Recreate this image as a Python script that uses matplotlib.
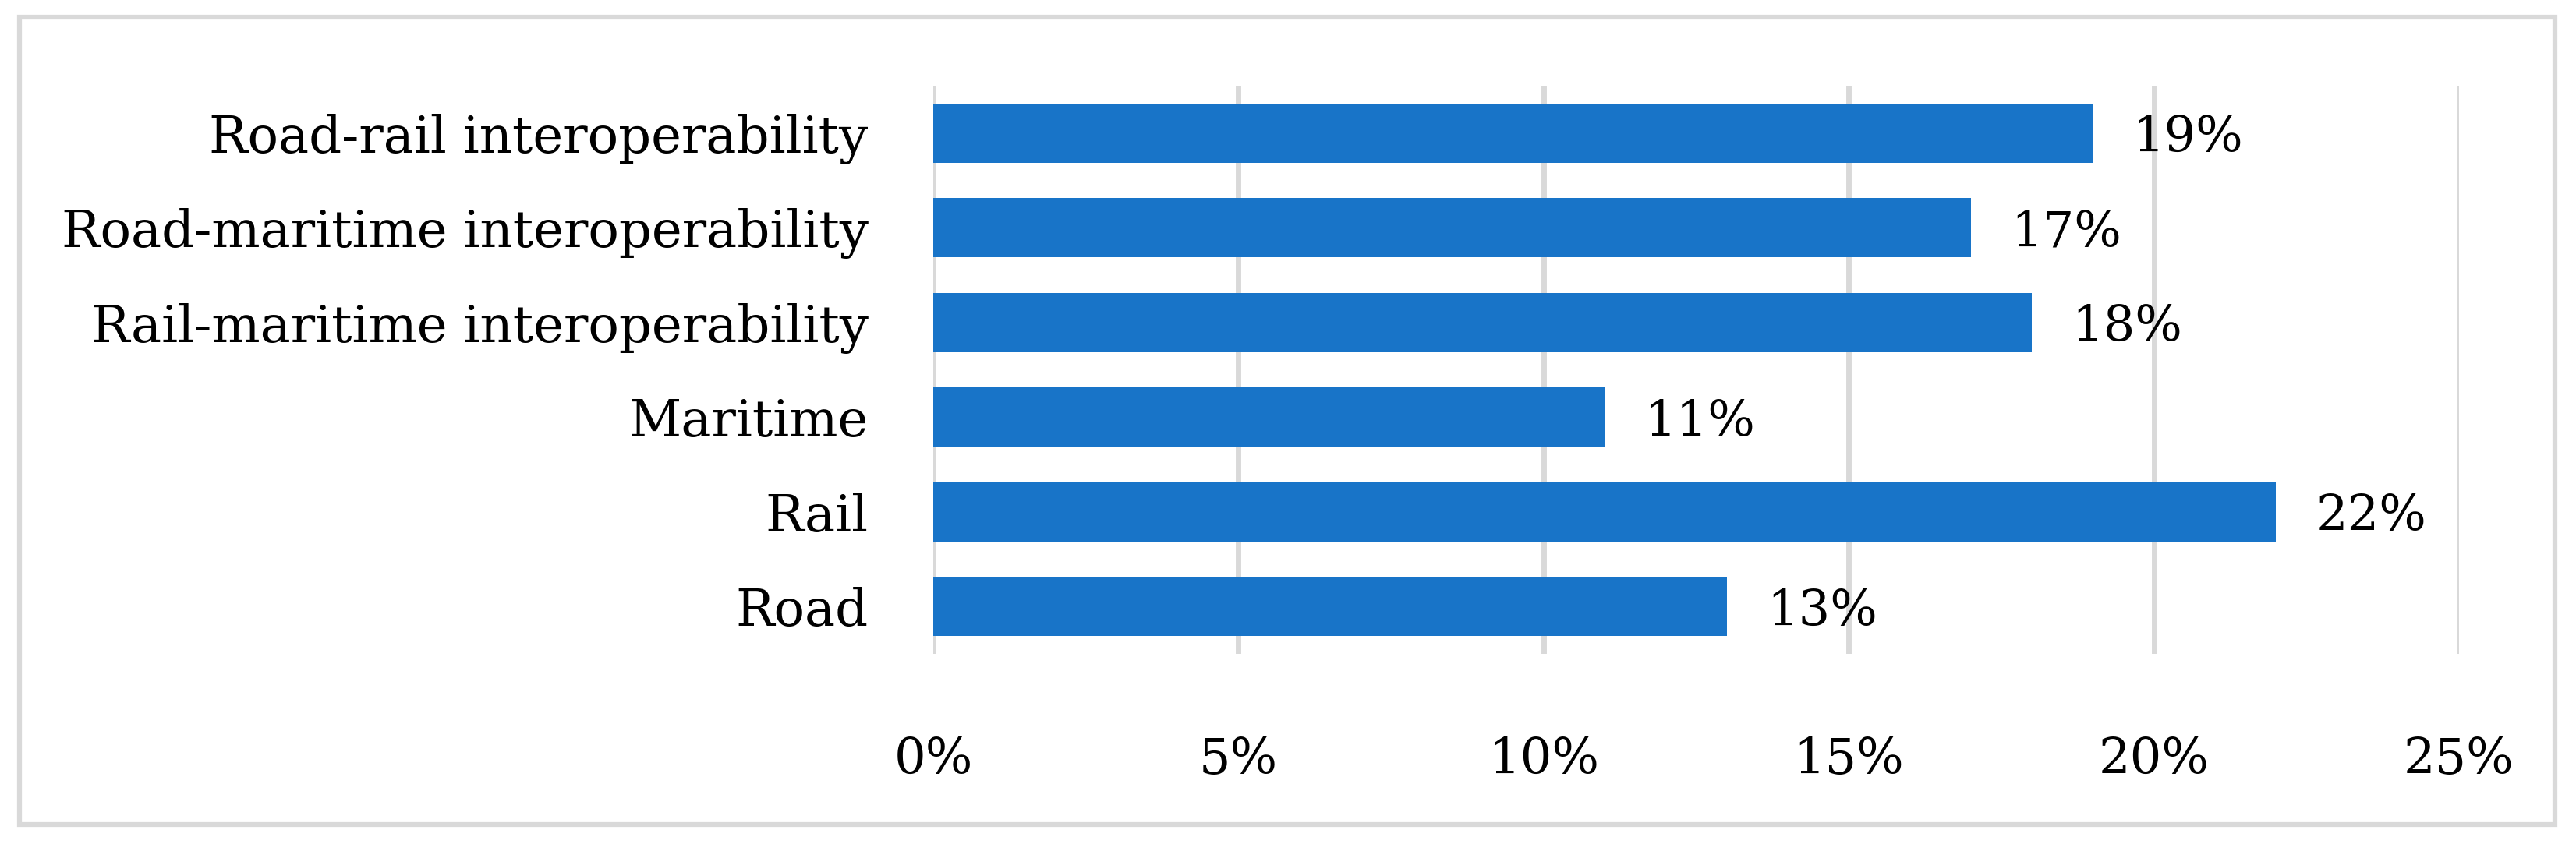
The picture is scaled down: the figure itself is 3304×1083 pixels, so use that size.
import matplotlib
matplotlib.use("Agg")
import matplotlib.pyplot as plt
from matplotlib.patches import Rectangle
from matplotlib.ticker import FuncFormatter

categories = ["Road", "Rail", "Maritime", "Rail-maritime interoperability",
              "Road-maritime interoperability", "Road-rail interoperability"]
values = [13, 22, 11, 18, 17, 19]
xticks = [0, 5, 10, 15, 20, 25]

W, H = 3304, 1083
fig = plt.figure(figsize=(W / 100, H / 100), dpi=100)
plt.rcParams['font.family'] = ['DejaVu Serif']
FS_Y = 47.3
FS = 46

ax = fig.add_axes([1197 / W, 1 - 839 / H, (3154 - 1197) / W, (839 - 110) / H])
ypos = list(range(len(categories)))
ax.barh(ypos, values, height=0.625, color='#1874C8', zorder=3)
ax.set_xlim(0, 25)
ax.set_ylim(-0.5, len(categories) - 0.5)
ax.set_yticks(ypos)
ax.set_yticklabels(categories, fontsize=FS_Y)
ax.set_xticks(xticks)
ax.xaxis.set_major_formatter(FuncFormatter(lambda v, p: f"{v:.0f}%"))
for lab in ax.get_xticklabels():
    lab.set_fontsize(FS)
ax.tick_params(axis='y', length=0, pad=60)
ax.tick_params(axis='x', length=0, pad=76)
ax.grid(axis='x', color='#D9D9D9', linewidth=5, zorder=0)
for s in ax.spines.values():
    s.set_visible(False)

for y, v in zip(ypos, values):
    ax.annotate(f"{v}%", (v, y), xytext=(37, -5), textcoords='offset points',
                va='center', ha='left', fontsize=FS)

fig.patches.append(Rectangle((25 / W, 1 - 1058 / H), (3277 - 25) / W, (1058 - 22) / H,
                             transform=fig.transFigure, fill=False,
                             edgecolor='#D9D9D9', linewidth=4.5))

fig.savefig("out.png", dpi=100)
